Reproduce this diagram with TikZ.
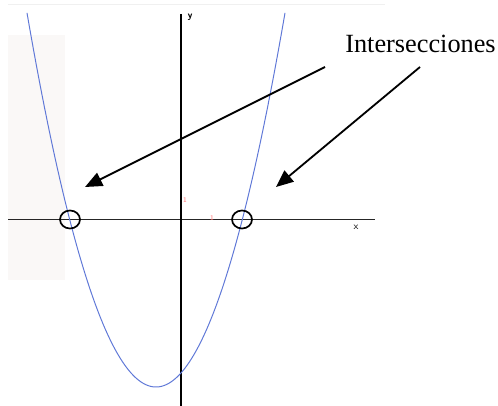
\documentclass[tikz,border=0pt]{standalone}
\usepackage{fontspec}
\setmainfont{Liberation Serif}
\usepackage{xcolor}
\usepackage{tikz}
\usetikzlibrary{arrows.meta,positioning,calc}

\definecolor{azulcurva}{RGB}{95,120,215}
\definecolor{papel}{RGB}{250,248,247}

\begin{document}
\begin{tikzpicture}[x=0.025cm,y=-0.025cm]
  \useasboundingbox (0,0) rectangle (498,406);
  % fondo escaneado
  \fill[papel] (8,35) rectangle (65,280);
  \draw[black!6] (8,4) -- (385,4);
  % ejes
  \coordinate (ejeXi) at (8,219.5);
  \coordinate (ejeXf) at (375,219.5);
  \coordinate (ejeYi) at (181,14);
  \coordinate (ejeYf) at (181,406);
  \draw[line width=1pt,black!85] (ejeXi) -- (ejeXf);
  \draw[line width=1.2pt] (ejeYi) -- (ejeYf);
  \node[font=\sffamily\bfseries\scriptsize,inner sep=0] (ly) at (190,17) {y};
  \node[font=\sffamily\scriptsize,inner sep=0] (lx) at (356,227) {x};
  \node[font=\sffamily\tiny,text=red!55,inner sep=0] (uy) at (185,200) {1};
  \node[font=\sffamily\tiny,text=red!55,inner sep=0] (ux) at (212,218) {1};
  % parabola
  \draw[azulcurva,line width=0.7pt] plot[domain=27:285,samples=120]
    (\x,{387-(0.14993*(\x-156))^2});
  % cortes
  \draw[line width=1.2pt] (70,219.5) ellipse (10 and 9);
  \draw[line width=1.2pt] (242,219.5) ellipse (10 and 9);
  % texto y flechas
  \node[anchor=base west,inner sep=0,font=\fontsize{18.7}{20}\selectfont]
    (texto) at (345,53) {Intersecciones};
  \coordinate (inicioA) at (325,67);
  \coordinate (finA) at (85,187);
  \coordinate (inicioB) at (420,67);
  \coordinate (finB) at (276,187);
  \draw[line width=1.3pt,-{Triangle[length=0.43cm,width=0.36cm]}] (inicioA) -- (finA);
  \draw[line width=1.3pt,-{Triangle[length=0.43cm,width=0.36cm]}] (inicioB) -- (finB);
\end{tikzpicture}
\end{document}
